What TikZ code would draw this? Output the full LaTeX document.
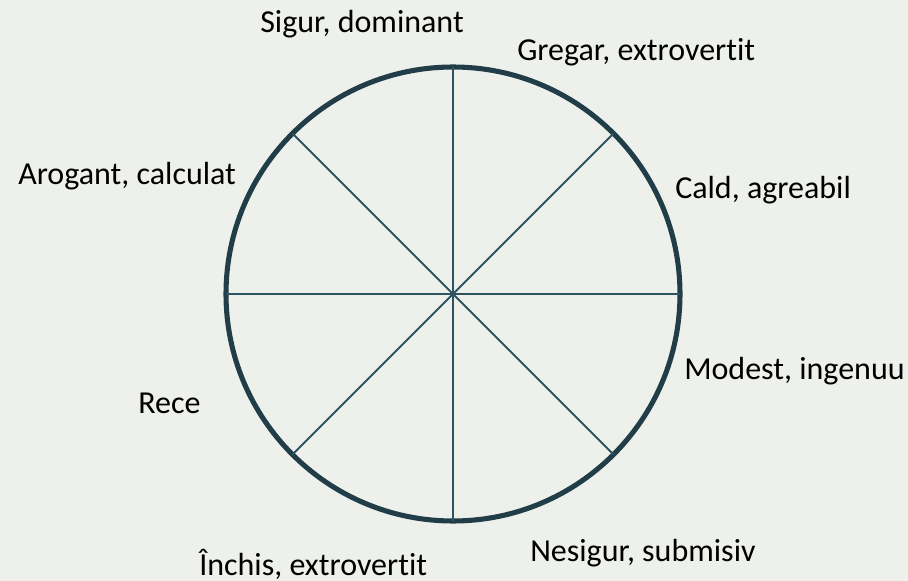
\documentclass[tikz,border=0pt]{standalone}
\usepackage{fontspec}
\setmainfont{Carlito}[RawFeature={-liga}]
\usepackage{tikz}
\usepackage{xcolor}
\definecolor{bgpaper}{HTML}{EEF0EB}
\definecolor{rimcol}{HTML}{213D48}
\definecolor{spokecol}{HTML}{2F5461}

\begin{document}
\begin{tikzpicture}[x=0.75pt,y=-0.75pt,
  trait/.style={anchor=base west,inner sep=0pt,font=\fontsize{24}{28}\selectfont}]
\fill[bgpaper] (0,0) rectangle (908,581);
\useasboundingbox (0,0) rectangle (908,581);
\node[circle,draw=rimcol,line width=3.8pt,minimum size=340.5pt,inner sep=0pt,outer sep=0pt] (wheel) at (453,294) {};
\draw[spokecol,line width=1.5pt] (wheel.90)--(wheel.270);
\draw[spokecol,line width=1.5pt] (wheel.0)--(wheel.180);
\draw[spokecol,line width=1.5pt] (wheel.45)--(wheel.225);
\draw[spokecol,line width=1.5pt] (wheel.135)--(wheel.315);
\node[trait] (sigur) at (260,33) {Sigur, dominant};
\node[trait] (gregar) at (517,61) {Gregar, extrovertit};
\node[trait] (arogant) at (18,185) {Arogant, calculat};
\node[trait] (cald) at (675,199) {Cald, agreabil};
\node[trait] (modest) at (684,380) {Modest, ingenuu};
\node[trait] (rece) at (138,413) {Rece};
\node[trait] (inchis) at (199,575) {Închis, extrovertit};
\node[trait] (nesigur) at (530,561) {Nesigur, submisiv};
\end{tikzpicture}
\end{document}
